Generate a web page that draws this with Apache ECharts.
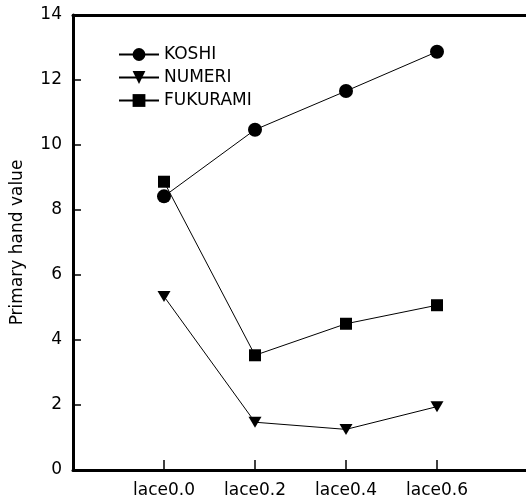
<!DOCTYPE html>
<html>
<head>
<meta charset="utf-8">
<script src="https://cdn.jsdelivr.net/npm/echarts@6/dist/echarts.min.js"></script>
<style>html,body{margin:0;padding:0;background:#fff;}#c{width:526px;height:502px;}</style>
</head>
<body>
<div id="c"></div>
<script>
const categories = ['lace0.0', 'lace0.2', 'lace0.4', 'lace0.6'];
const koshi = [8.42, 10.47, 11.66, 12.87];
const numeri = [5.34, 1.47, 1.25, 1.95];
const fukurami = [8.87, 3.53, 4.50, 5.07];
const yTicks = [0, 2, 4, 6, 8, 10, 12, 14];

const axisCats = [''].concat(categories, ['']);
const font = 'DejaVu Sans, Liberation Sans, Arial, sans-serif';
const fs = 17;

function mk(name, vals, symbol, size, rotate) {
  return {
    name: name, type: 'line',
    data: categories.map((c, i) => [c, vals[i]]),
    symbol: symbol, symbolSize: size, symbolRotate: rotate || 0,
    showAllSymbol: true,
    itemStyle: { color: '#000' },
    lineStyle: { color: '#000', width: 1 },
    emphasis: { disabled: true },
    animation: false
  };
}

const chart = echarts.init(document.getElementById('c'));
chart.setOption({
  backgroundColor: '#fff',
  animation: false,
  textStyle: { fontFamily: font },
  grid: { left: 73, right: -2, top: 15, bottom: 32, containLabel: false, outerBoundsMode: 'none' },
  legend: {
    orient: 'vertical', left: 113, top: 41,
    itemWidth: 40, itemHeight: 16, itemGap: 6,
    textStyle: { fontSize: fs, color: '#000', fontFamily: font },
    data: ['KOSHI', 'NUMERI', 'FUKURAMI']
  },
  xAxis: [{
    type: 'category', data: axisCats, boundaryGap: false,
    axisLine: { lineStyle: { color: '#000', width: 3 } },
    axisTick: { inside: true, length: 10, lineStyle: { color: '#000', width: 1.5 },
      interval: (i, v) => v !== '' },
    axisLabel: { color: '#000', fontSize: fs, margin: 12, fontFamily: font, interval: 0 },
    splitLine: { show: false }
  }, {
    type: 'category', data: axisCats, boundaryGap: false, position: 'top',
    axisLine: { lineStyle: { color: '#000', width: 3 } },
    axisTick: { show: false }, axisLabel: { show: false }, splitLine: { show: false }
  }],
  yAxis: {
    type: 'value', min: yTicks[0], max: yTicks[yTicks.length - 1], interval: 2,
    name: 'Primary hand value', nameLocation: 'middle', nameGap: 47,
    nameTextStyle: { fontSize: fs, color: '#000', fontFamily: font },
    axisLine: { show: true, lineStyle: { color: '#000', width: 3 } },
    axisTick: { show: true, inside: true, length: 8, lineStyle: { color: '#000', width: 1.5 } },
    axisLabel: { color: '#000', fontSize: fs, margin: 11, fontFamily: font },
    splitLine: { show: false }
  },
  series: [
    mk('KOSHI', koshi, 'circle', 14),
    mk('NUMERI', numeri, 'triangle', [13, 11], 180),
    mk('FUKURAMI', fukurami, 'rect', 12)
  ]
});
</script>
</body>
</html>
